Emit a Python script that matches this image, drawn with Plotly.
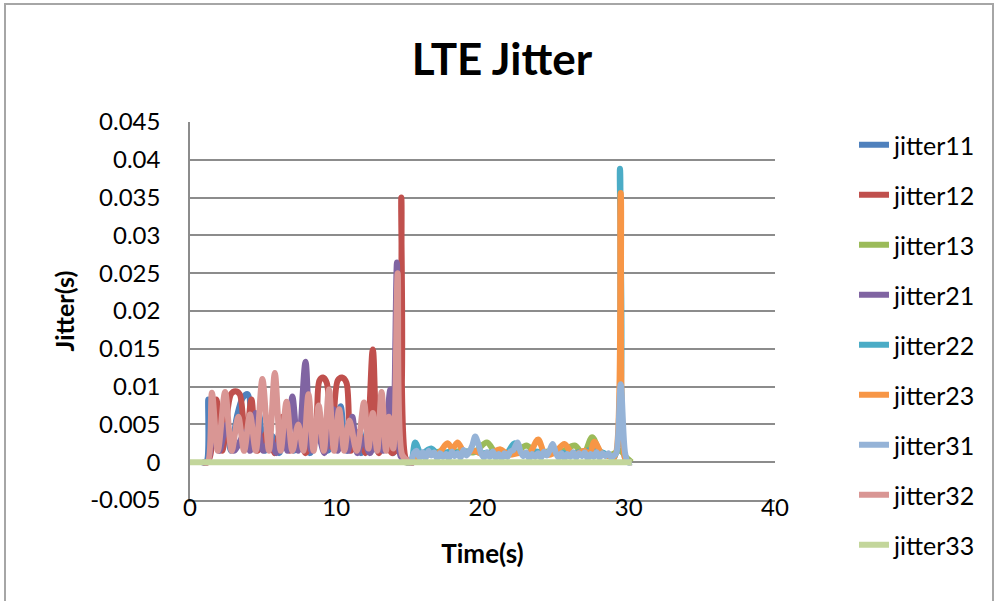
import plotly.graph_objects as go

# ---- data: time (s) / jitter (s) per flow ----
jitter11_t = [0.8, 1.1, 1.25, 1.45, 1.7, 2.0, 2.4, 2.8, 3.2, 3.6, 3.95, 4.3, 4.7, 5.1, 5.6, 6.1, 6.6, 7.1, 7.6,
              8.2, 8.8, 9.4, 9.9, 10.3, 10.7, 11.2, 11.7, 12.2, 12.8, 13.4, 13.9, 14.3, 14.7, 15.0, 15.3]
jitter11_v = [0, 0, 0.0083, 0.002, 0.0045, 0.0015, 0.0055, 0.0015, 0.006, 0.0085, 0.009, 0.003, 0.0065, 0.0015,
              0.0035, 0.0012, 0.0045, 0.0015, 0.003, 0.0012, 0.004, 0.0015, 0.003, 0.0074, 0.0015, 0.0035, 0.0012,
              0.0045, 0.0015, 0.003, 0.0012, 0.006, 0.0005, 0, 0]

jitter12_t = [0.9, 1.2, 1.4, 1.8, 2.2, 2.8, 3.1, 3.4, 3.8, 4.2, 4.6, 5.3, 5.8, 6.3, 6.8, 7.4, 7.9, 8.6, 8.85, 9.1,
              9.35, 9.7, 10.1, 10.4, 10.7, 11.0, 11.5, 12.0, 12.5, 12.9, 13.3, 13.8, 14.2, 14.45, 14.75, 15.0, 15.3]
jitter12_v = [0, 0, 0.001, 0.0083, 0.0015, 0.009, 0.0094, 0.009, 0.002, 0.0083, 0.0015, 0.004, 0.0012, 0.006,
              0.0015, 0.004, 0.0012, 0.005, 0.0108, 0.0112, 0.0105, 0.002, 0.0108, 0.0112, 0.0105, 0.0015, 0.004,
              0.0012, 0.0149, 0.0012, 0.003, 0.0012, 0.002, 0.035, 0.0005, 0, 0]

jitter13_t = [14.7, 15.0, 15.5, 16.2, 17.0, 17.8, 18.6, 19.4, 20.3, 21.0, 21.8, 22.4, 23.0, 23.7, 24.5, 25.2, 26.3,
              26.9, 27.5, 28.1, 28.8, 29.4, 29.9, 30.2]
jitter13_v = [0, 0, 0.0012, 0.001, 0.0014, 0.0012, 0.0015, 0.0013, 0.0026, 0.001, 0.0012, 0.0015, 0.0022, 0.0012,
              0.0014, 0.0012, 0.0022, 0.001, 0.0033, 0.0012, 0.001, 0.0015, 0.0005, 0]

jitter21_t = [0.9, 1.2, 1.6, 2.0, 2.5, 3.0, 3.8, 4.1, 4.5, 5.0, 5.5, 5.9, 6.3, 6.65, 7.0, 7.4, 7.9, 8.3, 8.7, 9.2,
              9.8, 10.1, 10.5, 10.8, 11.1, 11.45, 11.8, 12.3, 12.8, 13.2, 13.7, 13.9, 14.15, 14.4, 14.7, 15.0, 15.3]
jitter21_v = [0, 0, 0.004, 0.0015, 0.005, 0.0015, 0.004, 0.0015, 0.0065, 0.0015, 0.003, 0.0012, 0.005, 0.0015,
              0.0087, 0.0015, 0.0133, 0.0015, 0.004, 0.0012, 0.007, 0.0015, 0.004, 0.0015, 0.006, 0.0012, 0.003,
              0.0012, 0.004, 0.0015, 0.0096, 0.004, 0.0264, 0.0008, 0.0003, 0, 0]

jitter22_t = [14.8, 15.1, 15.4, 15.8, 16.5, 17.0, 17.8, 18.5, 19.3, 20.0, 20.8, 21.6, 22.2, 22.8, 23.6, 24.4, 25.2,
              26.0, 26.8, 27.6, 28.3, 29.0, 29.4, 29.75, 30.0, 30.2]
jitter22_v = [0, 0, 0.0026, 0.0012, 0.0018, 0.001, 0.0014, 0.0012, 0.0015, 0.0012, 0.0013, 0.0011, 0.0025, 0.001,
              0.0014, 0.0012, 0.0013, 0.0011, 0.0014, 0.0016, 0.0012, 0.0006, 0.0388, 0.0005, 0, 0]

jitter23_t = [14.8, 15.1, 15.6, 16.3, 17.0, 17.6, 17.95, 18.3, 18.8, 19.4, 20.1, 20.6, 21.2, 21.8, 22.5, 23.2, 23.8,
              24.3, 24.9, 25.6, 26.2, 27.0, 27.3, 27.65, 28.2, 28.7, 29.0, 29.45, 29.75, 30.0, 30.2]
jitter23_v = [0, 0, 0.0008, 0.001, 0.0012, 0.0025, 0.0018, 0.0026, 0.0012, 0.0015, 0.001, 0.0012, 0.0017, 0.001,
              0.0012, 0.0012, 0.003, 0.001, 0.0012, 0.0024, 0.001, 0.0015, 0.0008, 0.0027, 0.001, 0.0008, 0.0006,
              0.0356, 0.0005, 0, 0]

jitter31_t = [14.8, 15.1, 15.3, 15.5, 15.7, 15.9, 16.1, 16.3, 16.5, 16.7, 16.9, 17.1, 17.3, 17.5, 17.7, 17.9, 18.1,
              18.3, 18.5, 18.7, 18.9, 19.1, 19.3, 19.5, 19.7, 19.9, 20.1, 20.3, 20.5, 20.7, 20.9, 21.1, 21.3, 21.5,
              21.7, 21.9, 22.1, 22.4, 22.6, 22.8, 23.0, 23.2, 23.4, 23.6, 23.8, 24.0, 24.2, 24.4, 24.6, 24.8, 25.0,
              25.2, 25.4, 25.6, 25.8, 26.0, 26.2, 26.4, 26.6, 26.8, 27.0, 27.2, 27.4, 27.6, 27.8, 28.0, 28.2, 28.4,
              28.6, 28.8, 29.0, 29.15, 29.45, 29.75, 29.95, 30.2]
jitter31_v = [0, 0, 0.0012, 0.0015, 0.0006, 0.0013, 0.0005, 0.0015, 0.0009, 0.0013, 0.0005, 0.0012, 0.0007,
              0.0011, 0.0005, 0.0014, 0.0008, 0.0012, 0.0006, 0.0016, 0.0009, 0.0014, 0.0022, 0.0034, 0.0025,
              0.0012, 0.0006, 0.0013, 0.0007, 0.0014, 0.0006, 0.0011, 0.0005, 0.0012, 0.0007, 0.0014, 0.0016,
              0.0026, 0.0014, 0.0008, 0.0013, 0.0005, 0.0011, 0.0007, 0.0012, 0.0006, 0.0014, 0.0009, 0.0016,
              0.0024, 0.0013, 0.0006, 0.0012, 0.0005, 0.0011, 0.0007, 0.0013, 0.0006, 0.0012, 0.0008, 0.0013,
              0.0005, 0.0011, 0.0007, 0.0013, 0.0006, 0.0012, 0.0008, 0.0012, 0.0006, 0.0009, 0.0012, 0.0103,
              0.0012, 0, 0]

jitter32_t = [0.9, 1.2, 1.5, 1.9, 2.4, 2.85, 3.3, 3.7, 4.1, 4.5, 4.95, 5.4, 5.8, 6.2, 6.6, 7.0, 7.4, 7.75, 8.1,
              8.45, 8.8, 9.15, 9.5, 9.85, 10.2, 10.55, 10.9, 11.4, 11.9, 12.2, 12.5, 12.8, 13.1, 13.4, 13.6, 13.9,
              14.2, 14.5, 14.8, 15.0, 15.3]
jitter32_v = [0, 0, 0.0092, 0.0015, 0.0093, 0.0015, 0.006, 0.0015, 0.0063, 0.0015, 0.011, 0.0015, 0.0118, 0.0015,
              0.008, 0.0015, 0.005, 0.0015, 0.009, 0.0015, 0.0075, 0.0015, 0.0096, 0.0015, 0.007, 0.0015, 0.0055,
              0.0015, 0.0079, 0.0018, 0.0065, 0.0015, 0.0093, 0.0015, 0.006, 0.0018, 0.025, 0.001, 0.0003, 0, 0]

jitter33_t = [0, 30.2]
jitter33_v = [0, 0]

series = [
    ("jitter11", jitter11_t, jitter11_v, "#4F81BD"),
    ("jitter12", jitter12_t, jitter12_v, "#C0504D"),
    ("jitter13", jitter13_t, jitter13_v, "#9BBB59"),
    ("jitter21", jitter21_t, jitter21_v, "#8064A2"),
    ("jitter22", jitter22_t, jitter22_v, "#4BACC6"),
    ("jitter23", jitter23_t, jitter23_v, "#F79646"),
    ("jitter31", jitter31_t, jitter31_v, "#95B3D7"),
    ("jitter32", jitter32_t, jitter32_v, "#D99694"),
    ("jitter33", jitter33_t, jitter33_v, "#C3D69B"),
]

y_ticks = [-0.005, 0, 0.005, 0.01, 0.015, 0.02, 0.025, 0.03, 0.035, 0.04, 0.045]
y_tick_text = ["-0.005", "0", "0.005", "0.01", "0.015", "0.02", "0.025", "0.03", "0.035", "0.04", "0.045"]
x_ticks = [0, 10, 20, 30, 40]

FONT = "Lato, 'Liberation Sans', sans-serif"
GRID = "#8C8C8C"

fig = go.Figure()
for name, t, v, color in series:
    fig.add_trace(go.Scatter(
        x=t, y=v, name=name, mode="lines", legendgroup=name,
        line=dict(color=color, width=6, shape="spline", smoothing=0.9),
    ))

fig.update_layout(
    width=995, height=601,
    margin=dict(l=190, r=220, t=122, b=101),
    paper_bgcolor="white", plot_bgcolor="white",
    font=dict(family=FONT, color="black"),
    title=dict(text="<b>LTE Jitter</b>", x=502 / 995, xanchor="center",
               y=1 - 60 / 601, yanchor="middle", xref="container", yref="container",
               font=dict(size=44, family=FONT, color="black")),
    xaxis=dict(range=[0, 40], tickvals=x_ticks, showgrid=False, zeroline=False,
               showline=True, linecolor=GRID, linewidth=1.5, ticks="", ticklabelstandoff=-15,
               tickfont=dict(size=24), title=dict(text="<b>Time(s)</b>", font=dict(size=26), standoff=25)),
    yaxis=dict(range=[-0.005, 0.045], tickvals=y_ticks, ticktext=y_tick_text, showgrid=True,
               gridcolor=GRID, gridwidth=1.5,
               zeroline=False, showline=True, linecolor=GRID, linewidth=1.5, ticks="",
               ticklabelstandoff=23,
               tickfont=dict(size=24), title=dict(text="<b>Jitter(s)</b>", font=dict(size=25), standoff=8)),
    legend=dict(x=(854 - 190) / 585, xanchor="left", y=1.0, yanchor="top",
                font=dict(size=25, family=FONT, color="black"), maxheight=600,
                traceorder="grouped", tracegroupgap=14.5, bgcolor="rgba(0,0,0,0)"),
    showlegend=True,
)

# chart-area frame
fig.add_shape(type="rect", xref="paper", yref="paper",
              x0=(5 - 190) / 585, x1=(993 - 190) / 585, y0=(500 - 620) / 378, y1=(500 - 4) / 378,
              line=dict(color="#A6A6A6", width=2), fillcolor="rgba(0,0,0,0)", layer="below")

fig.write_html("out.html")
